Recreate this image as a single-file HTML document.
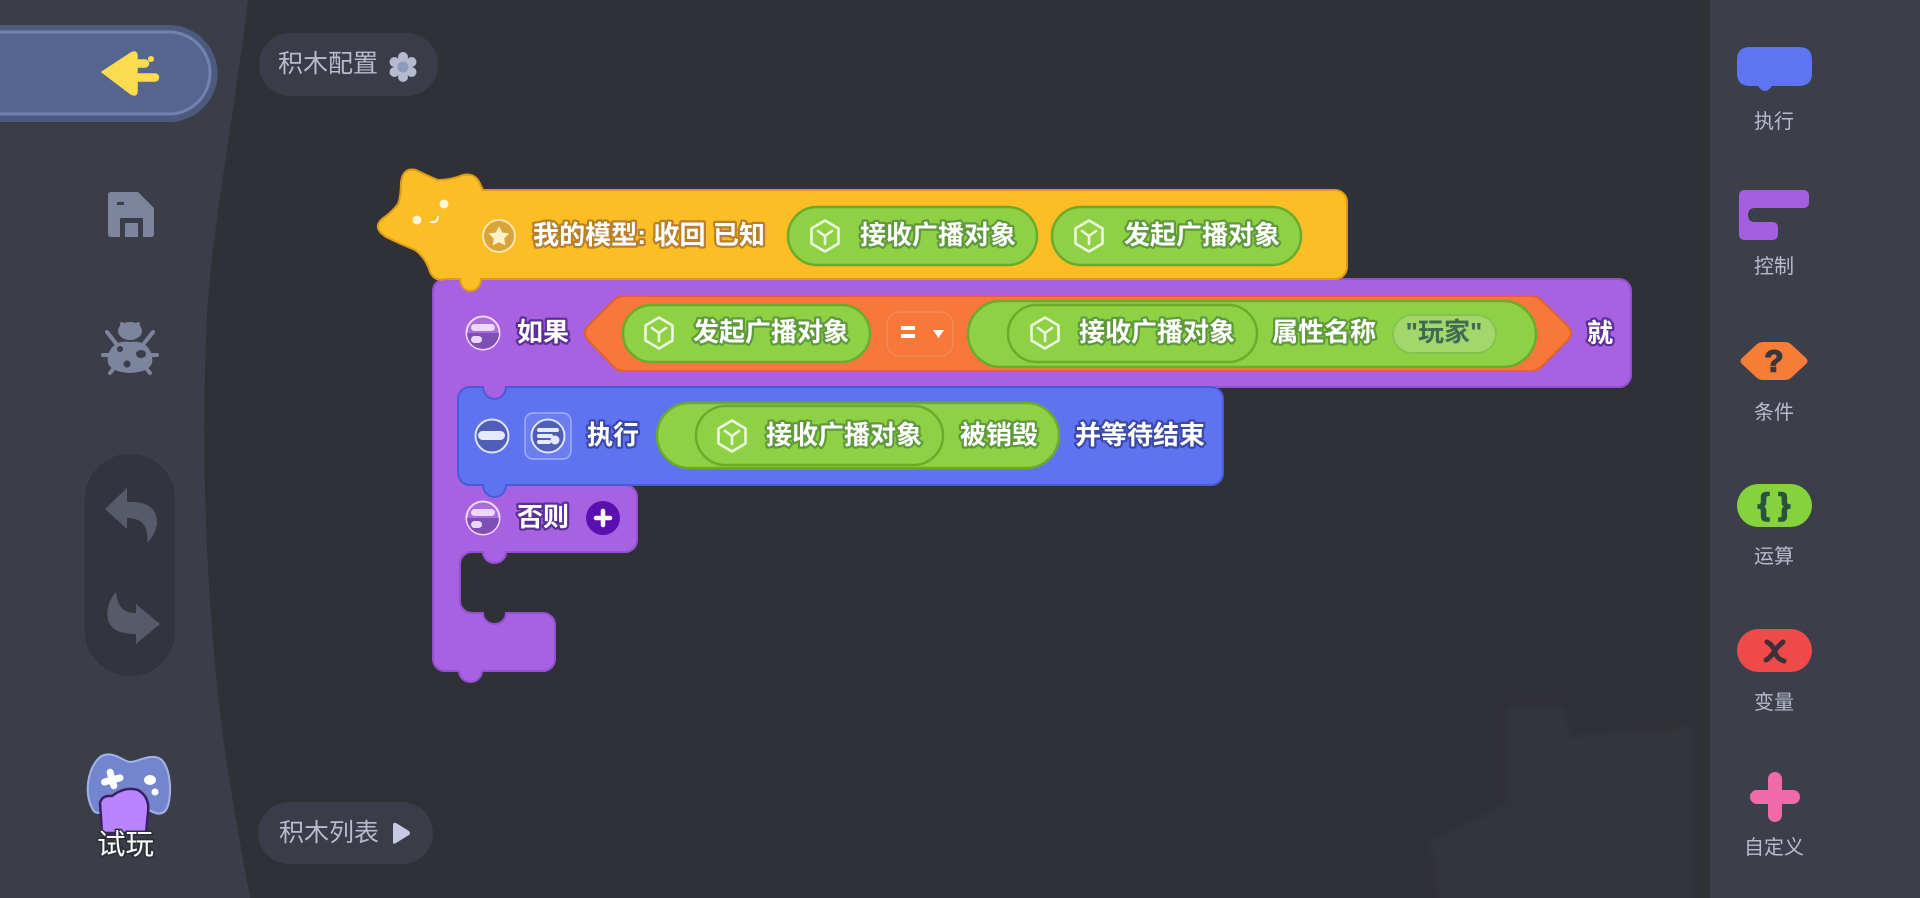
<!DOCTYPE html>
<html><head><meta charset="utf-8">
<style>
html,body{margin:0;padding:0;background:#303136;width:1920px;height:898px;overflow:hidden}
svg{display:block;position:absolute;left:0;top:0}
text{font-family:"Liberation Sans","Noto Sans CJK SC",sans-serif}
.l{font-size:26px;font-weight:700;fill:#fff;paint-order:stroke;stroke-width:4.5px;stroke-linejoin:round;dominant-baseline:central}
.y{stroke:#b8802a}.g{stroke:#5f9a3a}.p{stroke:#5a2f96}.b{stroke:#3a49a8}
.n{font-size:20px;fill:#b7bbcb;text-anchor:middle;dominant-baseline:central}
.c{font-size:25px;fill:#b7bbcb;dominant-baseline:central}
</style></head><body>
<svg width="1920" height="898" viewBox="0 0 1920 898" xmlns="http://www.w3.org/2000/svg">
<defs>
<filter id="bl" x="-10%" y="-10%" width="120%" height="120%"><feGaussianBlur stdDeviation="3"/></filter>
<g id="cube" fill="none" stroke="#eef8e0" stroke-width="2.6" stroke-linejoin="round" stroke-linecap="round">
<path d="M0 -15.5 L13.5 -7.5 V7.5 L0 15.5 L-13.5 7.5 V-7.5 Z"/><path d="M-7 -5 L0 0 L7 -5 M0 0 V8"/>
</g>
<g id="ctl"><circle r="16.5" fill="#a86fdc" stroke="#f0d8ff" stroke-width="2"/><path d="M-16 0 A16 16 0 0 0 16 0 Z" fill="#7f4fb8"/><rect x="-12" y="-9" width="24" height="7" rx="3.5" fill="#eed8ff"/><rect x="-12" y="3" width="11" height="7" rx="3.5" fill="#eed8ff"/></g>
</defs>

<rect width="1920" height="898" fill="#303136"/>
<!-- faint background star -->
<path d="M1507 708 H1565 L1570 737 L1617 732 L1693 727 V910 H1440 L1430 840 L1477 820 L1507 803 Z" fill="#31343b" filter="url(#bl)"/>

<!-- left panel -->
<path d="M0 0 H248 C236 100 214 220 208 300 C202 400 203 520 213 640 C220 740 238 830 250 898 H0 Z" fill="#3b3e49"/>
<!-- right panel -->
<rect x="1710" width="210" height="898" fill="#3c3f4a"/>
<rect x="1696" width="14" height="898" fill="#2f3136"/>

<!-- back button -->
<path d="M-10 25 H169 a48.5 48.5 0 0 1 0 97 H-10 Z" fill="#4d5a80"/>
<path d="M-10 32 H169 a41 41 0 0 1 0 82 H-10 Z" fill="#56658f" stroke="#7382ad" stroke-width="3"/>
<path d="M102 72 L131 53 Q137 50 137 56 V60 H145 a3.2 3.2 0 0 1 0 7 H137 V74 H155 a3.5 3.5 0 0 1 0 7 H137 V91 Q137 97 131 94 Z" fill="#fbdc50" stroke="#fbdc50" stroke-width="1.5" stroke-linejoin="round"/>
<circle cx="151" cy="59" r="3" fill="#fbdc50"/>

<!-- save -->
<path d="M111 192 H138 L154 208 V234 Q154 237 151 237 H111 Q108 237 108 234 V195 Q108 192 111 192 Z" fill="#7d849d"/>
<rect x="117" y="202" width="7" height="3" fill="#3b3e49"/>
<path d="M120 238 V218 H143 V238 H138 V223 H125 V238 Z" fill="#3b3e49"/>

<!-- bug -->
<g fill="#7d849d" stroke="#7d849d">
<g stroke-width="4" stroke-linecap="round" fill="none"><path d="M107 332 L118 346 M153 332 L142 346 M103 355 H157 M110 373 L119 362 M150 373 L141 362"/><path d="M122 324 L124 330 M138 324 L136 330"/></g>
<ellipse cx="130" cy="331" rx="12" ry="9" stroke="none"/>
<path d="M130 342 C147 339 154 353 152 363 Q149 372 130 373 Q111 372 108 363 C106 353 113 339 130 342 Z" stroke="none"/>
</g>
<g fill="#3b3e49"><ellipse cx="141" cy="354" rx="5" ry="4"/><circle cx="120" cy="349" r="3"/><circle cx="127" cy="364" r="3.5"/></g>

<!-- undo/redo -->
<rect x="84" y="453" width="92" height="224" rx="46" fill="#32343e" stroke="#3f424e" stroke-width="1"/>
<path d="M105 509 L127 488 V502 Q158 500 157 525 Q155 535 147 543 Q150 518 127 518 V529 Z" fill="#565a69"/>
<path d="M160 624 L136 604 V613 Q118 614 116 592 Q105 605 108 620 Q112 634 136 634 V644 Z" fill="#565a69"/>

<!-- play -->
<path d="M100 757 C112 749 124 762 130 762 C138 762 152 752 162 760 C172 772 172 800 166 810 Q160 818 146 808 L110 808 Q96 818 92 808 C85 795 86 770 100 757 Z" fill="#7485cf" stroke="#a6b2e6" stroke-width="2"/>
<path d="M112 772 V786 M104 780 H120" stroke="#fff" stroke-width="7" stroke-linecap="round" transform="rotate(-15 112 779)"/>
<ellipse cx="150" cy="780" rx="6" ry="5" fill="#fff"/><circle cx="155" cy="792" r="3.5" fill="#fff"/>
<path d="M102 833 L100 803 Q102 795 112 796 Q125 786 138 790 Q150 797 148 812 L146 833 Z" fill="#b884ff" stroke="#3a1f66" stroke-width="2.5"/>
<text x="97" y="845" style="font-size:28.5px;fill:#fff;paint-order:stroke;stroke:#2c2e36;stroke-width:3px;dominant-baseline:central">试玩</text>

<!-- top / bottom pills -->
<rect x="259" y="33" width="179" height="63" rx="31" fill="#3a3d48"/>
<text x="278" y="64" class="c">积木配置</text>
<g fill="#b5bace"><circle cx="403" cy="57" r="5"/><circle cx="403" cy="77" r="5"/><circle cx="394.5" cy="62" r="5"/><circle cx="411.5" cy="62" r="5"/><circle cx="394.5" cy="72" r="5"/><circle cx="411.5" cy="72" r="5"/><circle cx="403" cy="67" r="9"/></g>
<circle cx="403" cy="67" r="5.5" fill="#8f9bbd"/>
<rect x="258" y="802" width="175" height="62" rx="31" fill="#3a3d48"/>
<text x="279" y="833" class="c">积木列表</text>
<path d="M393 825 Q393 822 396 823 L409 831 Q411 833 409 835 L396 843 Q393 845 393 842 Z" fill="#c5cae6"/>

<!-- PURPLE block -->
<path d="M445 279 H1619 a12 12 0 0 1 12 12 V375 a12 12 0 0 1 -12 12 H470 V485 H625 a12 12 0 0 1 12 12 V540 a12 12 0 0 1 -12 12 H506 a11.5 11 0 0 1 -23 0 H472 a12 12 0 0 0 -12 12 V601 a12 12 0 0 0 12 12 H483 a11.5 11 0 0 0 23 0 H543 a12 12 0 0 1 12 12 V659 a12 12 0 0 1 -12 12 H482 a11.5 11 0 0 1 -23 0 H445 a12 12 0 0 1 -12 -12 V291 a12 12 0 0 1 12 -12 Z" fill="#a861e0" stroke="#9450cf" stroke-width="2"/>
<rect x="478" y="380" width="34" height="22" fill="#a861e0"/>

<!-- YELLOW block -->
<path d="M483 190 H1335 a12 12 0 0 1 12 12 V267 a12 12 0 0 1 -12 12 H481 a10.5 12 0 0 1 -21 0 H445 Q435 282 430 272 Q426 258 415 250 Q400 244 386 237 Q372 228 382 219 Q392 212 398 204 Q401 196 401 182 Q403 167 416 170 Q428 176 438 180 Q450 180 463 175 Q476 172 481 186 Z" fill="#fdbd24" stroke="#dc9a1b" stroke-width="2"/>
<circle cx="444" cy="204" r="4.5" fill="#fff5d8"/><circle cx="417" cy="220" r="4.5" fill="#fff5d8"/>
<path d="M431 222 Q437 223 438 217" fill="none" stroke="#fff5d8" stroke-width="2.2" stroke-linecap="round"/>
<circle cx="499" cy="236" r="16" fill="#d9a43a" stroke="#ffe8b0" stroke-width="2"/>
<path d="M499 226 l3.2 6.5 7 1 -5 5 1.2 7 -6.4 -3.3 -6.4 3.3 1.2 -7 -5 -5 7 -1 Z" fill="#fff0cc"/>
<text x="533" y="235" class="l y" textLength="232">我的模型: 收回 已知</text>

<rect x="788" y="207" width="249" height="58" rx="29" fill="#8ed145" stroke="#6bab2b" stroke-width="2.5"/>
<use href="#cube" x="825" y="236"/>
<text x="860" y="235" class="l g">接收广播对象</text>
<rect x="1052" y="207" width="249" height="58" rx="29" fill="#8ed145" stroke="#6bab2b" stroke-width="2.5"/>
<use href="#cube" x="1089" y="236"/>
<text x="1124" y="235" class="l g">发起广播对象</text>

<!-- if row -->
<use href="#ctl" x="483" y="333"/>
<text x="517" y="332" class="l p">如果</text>
<path d="M588 326 L614 300 Q618 296 624 296 H1531 Q1537 296 1541 300 L1568 326 Q1574 333 1568 340 L1541 367 Q1537 371 1531 371 H624 Q618 371 614 367 L588 340 Q582 333 588 326 Z" fill="#f7783a" stroke="#e0622e" stroke-width="2"/>
<rect x="623" y="305" width="247" height="57" rx="28.5" fill="#8ed145" stroke="#6bab2b" stroke-width="2.5"/>
<use href="#cube" x="659" y="333"/>
<text x="693" y="332" class="l g">发起广播对象</text>
<rect x="887" y="312" width="66" height="44" rx="13" fill="#f7783a" stroke="#ee9468" stroke-width="1"/>
<rect x="901" y="326" width="14" height="4" fill="#fff"/><rect x="901" y="334" width="14" height="4" fill="#fff"/>
<path d="M933 330 H944 L938.5 338 Z" fill="#fff"/>
<rect x="968" y="301" width="568" height="66" rx="33" fill="#8ed145" stroke="#6bab2b" stroke-width="2.5"/>
<rect x="1008" y="305" width="249" height="57" rx="28.5" fill="#8ed145" stroke="#6bab2b" stroke-width="2.5"/>
<use href="#cube" x="1045" y="333"/>
<text x="1079" y="332" class="l g">接收广播对象</text>
<text x="1272" y="332" class="l g">属性名称</text>
<rect x="1393" y="315" width="103" height="38" rx="19" fill="#a3d76c" stroke="#86c24f" stroke-width="2"/>
<text x="1444" y="332" text-anchor="middle" style="font-size:26px;font-weight:700;fill:#3f6b52;dominant-baseline:central">"玩家"</text>
<text x="1587" y="333" class="l p">就</text>

<!-- BLUE block -->
<path d="M470 387 H483 a11.5 12 0 0 0 23 0 H1211 a12 12 0 0 1 12 12 V473 a12 12 0 0 1 -12 12 H506 a11.5 12 0 0 1 -23 0 H470 a12 12 0 0 1 -12 -12 V399 a12 12 0 0 1 12 -12 Z" fill="#5f73f0" stroke="#4a5bd8" stroke-width="2"/>
<circle cx="492" cy="436" r="16.5" fill="#4f5fb8" stroke="#dfe4ff" stroke-width="2"/>
<rect x="478" y="431" width="27" height="9" rx="4.5" fill="#e6eaff"/>
<rect x="525" y="413" width="46" height="46" rx="8" fill="#6a7ef2" stroke="#aeb9f8" stroke-width="1.2"/>
<circle cx="548" cy="436" r="16.5" fill="#4f5fb8" stroke="#dfe4ff" stroke-width="2"/>
<rect x="537" y="428" width="22" height="4" rx="2" fill="#e6eaff"/><rect x="537" y="434" width="16" height="4" rx="2" fill="#e6eaff"/><rect x="537" y="440" width="14" height="4" rx="2" fill="#e6eaff"/><circle cx="555" cy="440" r="4.5" fill="#e6eaff"/>
<text x="587" y="435" class="l b">执行</text>
<rect x="657" y="403" width="402" height="65" rx="32.5" fill="#8ed145" stroke="#6bab2b" stroke-width="2.5"/>
<rect x="696" y="406" width="247" height="59" rx="29.5" fill="#8ed145" stroke="#6bab2b" stroke-width="2.5"/>
<use href="#cube" x="732" y="436"/>
<text x="766" y="435" class="l g">接收广播对象</text>
<text x="960" y="435" class="l g">被销毁</text>
<text x="1075" y="435" class="l b">并等待结束</text>

<!-- else -->
<use href="#ctl" x="483" y="518"/>
<text x="517" y="517" class="l p">否则</text>
<circle cx="603" cy="518" r="17" fill="#5a0fb0"/>
<path d="M603 511 V525 M596 518 H610" stroke="#fff" stroke-width="4.5" stroke-linecap="round"/>

<!-- right icons -->
<path d="M1750 47 H1799 Q1812 47 1812 60 V73 Q1812 86 1799 86 H1772 Q1765 96 1758 86 H1750 Q1737 86 1737 73 V60 Q1737 47 1750 47 Z" fill="#5d75ee"/>
<text x="1774" y="122" class="n">执行</text>
<path d="M1745 190 H1803 Q1809 190 1809 196 V202 Q1809 208 1803 208 H1755 Q1748 208 1748 215 Q1748 222 1755 222 H1772 Q1778 222 1778 228 V234 Q1778 240 1772 240 H1745 Q1739 240 1739 234 V196 Q1739 190 1745 190 Z" fill="#a45fe0"/>
<text x="1774" y="267" class="n">控制</text>
<path d="M1763 342 H1785 Q1789 342 1792 345 L1806 358 Q1809 361 1806 364 L1792 377 Q1789 380 1785 380 H1763 Q1759 380 1756 377 L1742 364 Q1739 361 1742 358 L1756 345 Q1759 342 1763 342 Z" fill="#f57d35"/>
<text x="1774" y="361" text-anchor="middle" style="font-size:31px;font-weight:900;fill:#3a3640;paint-order:stroke;stroke:#3a3640;stroke-width:1.5px;dominant-baseline:central">?</text>
<text x="1774" y="413" class="n">条件</text>
<rect x="1737" y="484" width="75" height="43" rx="21.5" fill="#86d23e"/>
<text x="1774" y="504" text-anchor="middle" style="font-size:31px;font-weight:700;fill:#2a5240;paint-order:stroke;stroke:#2a5240;stroke-width:1.5px;dominant-baseline:central">{ }</text>
<text x="1774" y="557" class="n">运算</text>
<rect x="1737" y="629" width="75" height="43" rx="21.5" fill="#ee4a4a"/>
<path d="M1767 642 Q1773 645 1775 652 Q1777 659 1784 661 M1783 642 Q1776 648 1774 652 Q1770 658 1766 660" fill="none" stroke="#3f3038" stroke-width="5" stroke-linecap="round"/>
<text x="1774" y="703" class="n">变量</text>
<path d="M1775 779 V815 M1757 797 H1793" stroke="#ef6aa8" stroke-width="14" stroke-linecap="round"/>
<text x="1774" y="848" class="n">自定义</text>
</svg>
</body></html>
